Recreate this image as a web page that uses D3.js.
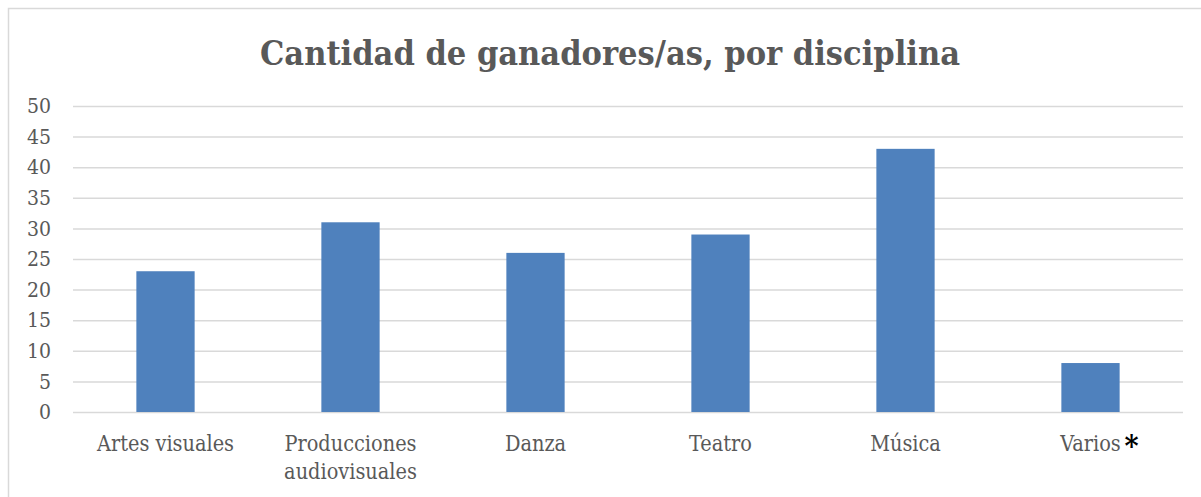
<!DOCTYPE html>
<html>
<head>
<meta charset="utf-8">
<script src="https://cdn.jsdelivr.net/npm/d3@7"></script>
<style>
  body { margin: 0; background: #fff; }
  text { font-family: "DejaVu Serif Condensed", "DejaVu Serif", serif; font-stretch: condensed; }
</style>
</head>
<body>
<div id="chart"></div>
<script>
// Data_____________________________________________
const categories = ["Artes visuales", "Producciones audiovisuales", "Danza", "Teatro", "Música", "Varios"];
const values = [23, 31, 26, 29, 43, 8];
const yTicks = [0, 5, 10, 15, 20, 25, 30, 35, 40, 45, 50];
const title = "Cantidad de ganadores/as, por disciplina";

// Sizes____________________________________________
const width = 1201;
const height = 497;
const plotLeft = 73, plotRight = 1183, plotTop = 106, plotBottom = 412;
const font = '"DejaVu Serif Condensed", "DejaVu Serif", serif';

const svg = d3.select('#chart')
    .append('svg')
    .attr('width', width)
    .attr('height', height);

// chart frame (only top and left edges visible)
svg.append('rect')
    .attr('x', 8.5).attr('y', 8.5)
    .attr('width', width + 20).attr('height', height + 20)
    .attr('fill', 'none')
    .attr('stroke', '#d9d9d9')
    .attr('stroke-width', 1.5);

svg.append('text')
    .attr('x', 610).attr('y', 65)
    .attr('text-anchor', 'middle')
    .attr('font-size', 34)
    .attr('font-weight', 'bold')
    .attr('fill', '#595959')
    .text(title);

// Scales_____________________________________________
const x = d3.scaleBand()
    .domain(categories)
    .range([plotLeft, plotRight])
    .paddingInner(0.685)
    .paddingOuter(0.3425);
const y = d3.scaleLinear()
    .domain([0, 50])
    .range([plotBottom, plotTop]);

// gridlines + y labels
const yAxis = d3.axisLeft(y)
    .tickValues(yTicks)
    .tickSize(-(plotRight - plotLeft))
    .tickPadding(22);
const gy = svg.append('g')
    .attr('transform', `translate(${plotLeft},0)`)
    .call(yAxis);
gy.attr('font-family', null);
gy.select('.domain').remove();
gy.selectAll('line').attr('stroke', '#d9d9d9').attr('stroke-width', 1.5);
gy.selectAll('text')
    .attr('font-size', 21)
    .attr('fill', '#595959')
    .style('font-family', font);

// bars
svg.append('g')
    .selectAll('rect')
    .data(categories)
    .enter()
    .append('rect')
    .attr('x', d => x(d))
    .attr('y', (d, i) => y(values[i]))
    .attr('width', x.bandwidth())
    .attr('height', (d, i) => y(0) - y(values[i]))
    .attr('fill', '#4f81bd');

// x labels (wrap long ones)
const lines = d => d === "Producciones audiovisuales" ? ["Producciones", "audiovisuales"] : [d];
const xl = svg.append('g')
    .selectAll('text')
    .data(categories)
    .enter()
    .append('text')
    .attr('x', d => x(d) + x.bandwidth() / 2)
    .attr('y', 451)
    .attr('text-anchor', 'middle')
    .attr('font-size', 21.5)
    .attr('fill', '#595959');
xl.selectAll('tspan')
    .data(d => lines(d))
    .enter()
    .append('tspan')
    .attr('x', function() { return this.parentNode.getAttribute('x'); })
    .attr('dy', (d, i) => i === 0 ? 0 : 28)
    .text(d => d);

// asterisk next to "Varios"
const last = categories[categories.length - 1];
svg.append('text')
    .attr('x', x(last) + x.bandwidth() / 2 + 34)
    .attr('y', 456)
    .attr('font-size', 30)
    .attr('font-weight', 'bold')
    .attr('fill', '#000')
    .text('*');
</script>
</body>
</html>
